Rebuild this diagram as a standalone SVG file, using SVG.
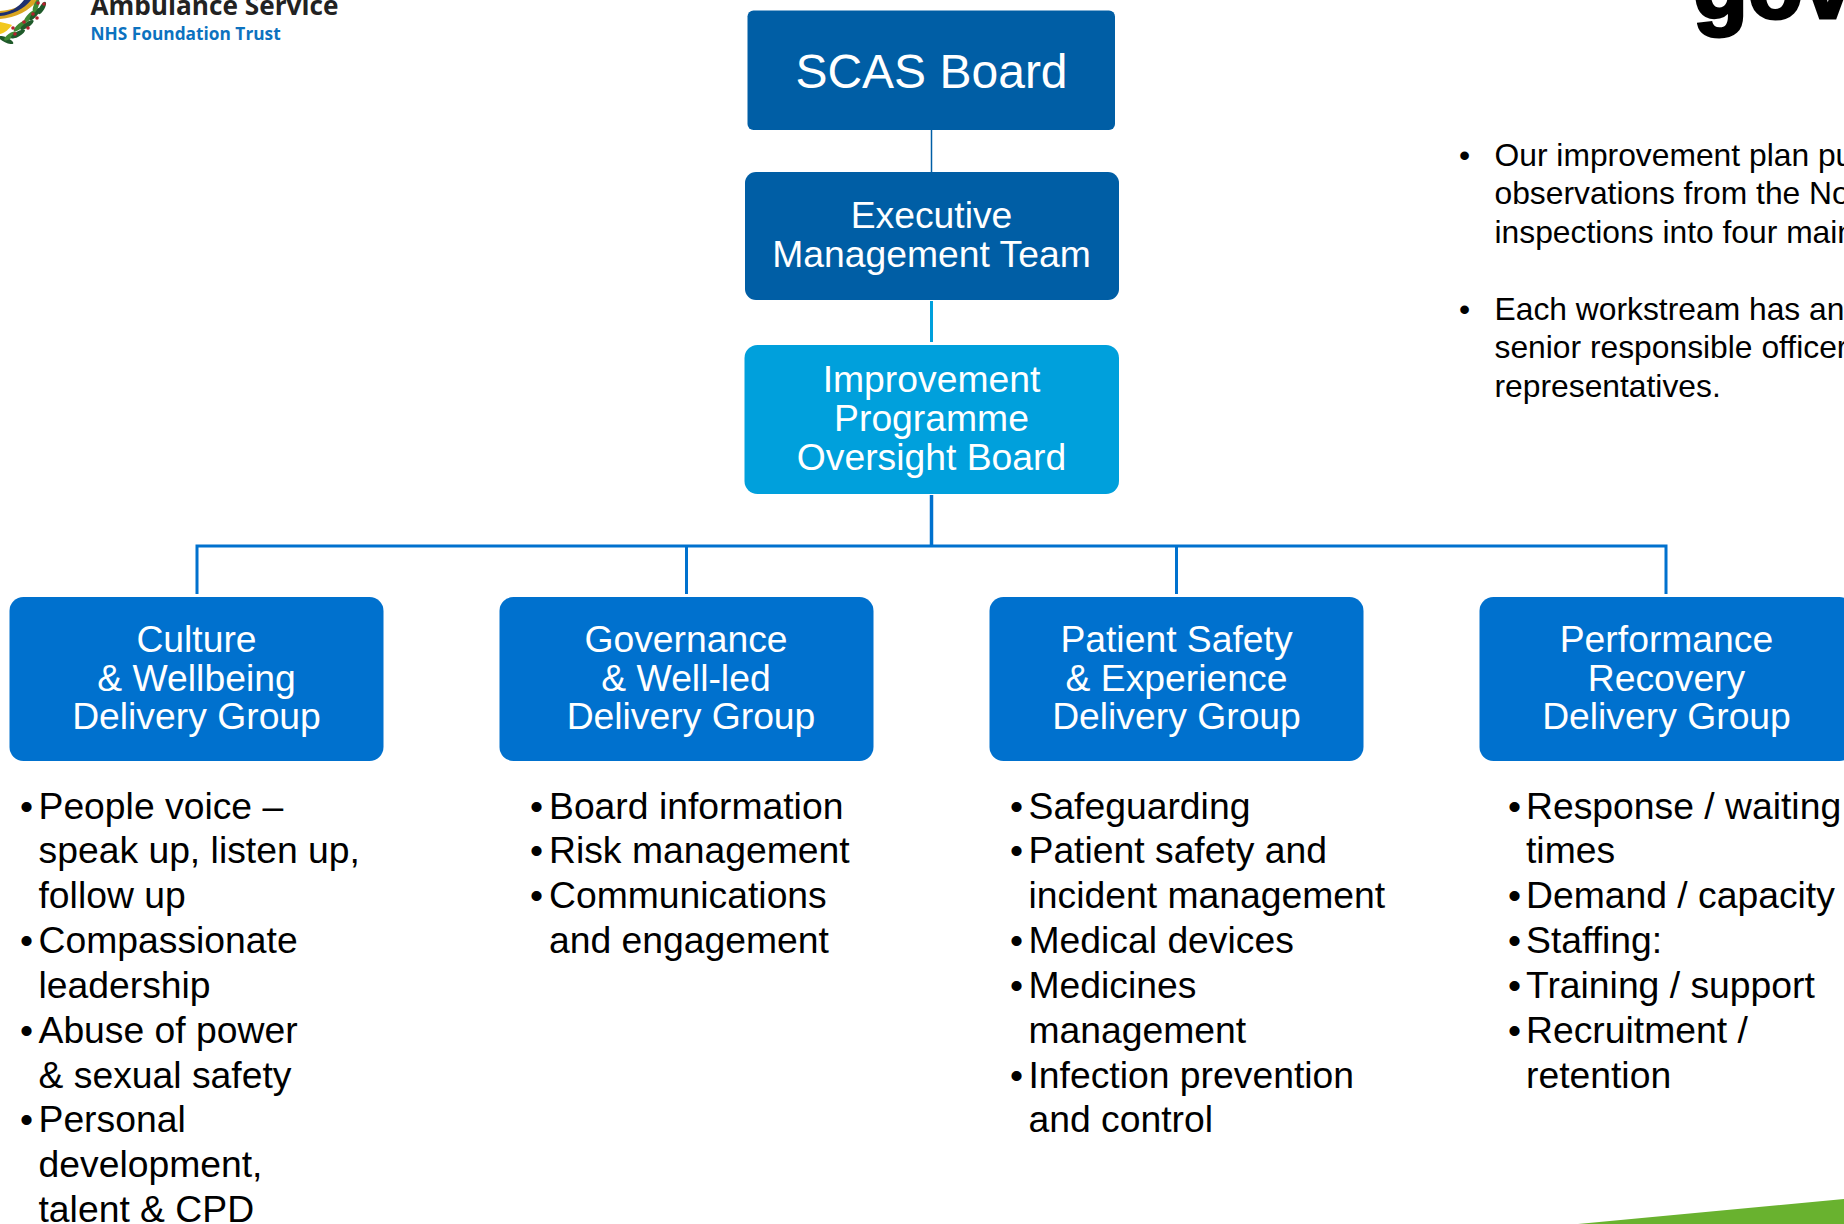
<svg xmlns="http://www.w3.org/2000/svg" width="1844" height="1224" viewBox="0 0 1844 1224">
<style>
text{font-family:"Liberation Sans",Arial,sans-serif}
.n{fill:#0071ce}.d{fill:#005eA5}.l{fill:#00a0dc}
.t{fill:#fff;font-size:37.300px;text-anchor:middle}
.b{fill:#000;font-size:37.300px}
.r{fill:#000;font-size:31.800px}
.c{fill:none;stroke:#0071ce;stroke-width:3}
.lf{fill:#3f8a34}.lg{fill:#1f5a2a}.br{fill:#b3202e}
</style>
<rect width="1844" height="1224" fill="#fff"/>
<g id="logo">
<path d="M0 11C12 10 22 6 28 0H38C30 10 16 18 0 19Z" fill="#d9a520"/>
<path d="M0 13C10 12 18 8 24 0H31C24 9 12 15 0 16Z" fill="#1d2f6f"/>
<path d="M0 22C5 23 9 24 12 25C9 29 5 33 0 34Z" fill="#f2c81e"/>
<g>
<ellipse class="lg" cx="6" cy="40" rx="8" ry="2.500" transform="rotate(25 6 40)"/>
<ellipse class="lf" cx="10" cy="36" rx="7" ry="2.500" transform="rotate(-35 10 36)"/>
<ellipse class="lg" cx="18" cy="34" rx="8" ry="2.500" transform="rotate(-30 18 34)"/>
<ellipse class="lf" cx="20" cy="26" rx="8" ry="2.500" transform="rotate(-40 20 26)"/>
<ellipse class="lg" cx="27" cy="25" rx="8" ry="2.500" transform="rotate(-35 27 25)"/>
<ellipse class="lf" cx="29" cy="17" rx="8" ry="2.500" transform="rotate(-50 29 17)"/>
<ellipse class="lg" cx="35" cy="14" rx="8" ry="2.500" transform="rotate(-50 35 14)"/>
<ellipse class="lf" cx="36" cy="6" rx="7" ry="2.500" transform="rotate(-70 36 6)"/>
<ellipse class="lg" cx="42" cy="8" rx="7" ry="2.500" transform="rotate(-60 42 8)"/>
<circle class="br" cx="15" cy="34" r="1.800"/><circle class="br" cx="13" cy="28" r="1.800"/><circle class="br" cx="24" cy="22" r="1.800"/><circle class="br" cx="28" cy="28" r="1.800"/><circle class="br" cx="33" cy="14" r="1.800"/><circle class="br" cx="37" cy="18" r="1.800"/><circle class="br" cx="38" cy="3" r="1.800"/><circle class="br" cx="44" cy="4" r="1.800"/>
</g>
<text x="90.500" y="15" font-size="26.200" font-weight="bold" fill="#222" style="font-family:'Open Sans',sans-serif">Ambulance Service</text>
<text x="90.500" y="40" font-size="17.300" font-weight="bold" fill="#0c72bf" style="font-family:'Open Sans',sans-serif">NHS Foundation Trust</text>
</g>
<g id="title"><text x="1693" y="18" font-size="90" font-weight="bold" fill="#000" stroke="#000" stroke-width="3">gov</text></g>
<g id="connectors">
<path d="M931.500 130V172" stroke="#005ea5" stroke-width="1.500" fill="none"/>
<path d="M931.500 301V342" stroke="#00a0dc" stroke-width="3" fill="none"/>
<path d="M931.500 495V546" stroke="#0071ce" stroke-width="3.500" fill="none"/>
<path class="c" d="M197 594V546H1666V594M686.500 546V594M1176.500 546V594"/>
</g>
<g id="scas-board"><rect class="d" x="747.500" y="10.500" width="367.500" height="119.500" rx="6"/><text class="t" x="931.500" y="88" style="font-size:48px">SCAS Board</text></g>
<g id="exec"><rect class="d" x="745" y="172" width="374" height="128" rx="11"/><text class="t" x="931.500" y="228">Executive</text><text class="t" x="931.500" y="267">Management Team</text></g>
<g id="ipob"><rect class="l" x="744.500" y="345" width="374.500" height="149" rx="13"/><text class="t" x="931.500" y="392">Improvement</text><text class="t" x="931.500" y="431">Programme</text><text class="t" x="931.500" y="470">Oversight Board</text></g>
<g id="culture"><rect class="n" x="9.500" y="597" width="374" height="164" rx="14"/><text class="t" x="196.500" y="652">Culture</text><text class="t" x="196.500" y="691">&amp; Wellbeing</text><text class="t" x="196.500" y="729">Delivery Group</text></g>
<g id="governance"><rect class="n" x="499.500" y="597" width="374" height="164" rx="14"/><text class="t" x="686" y="652">Governance</text><text class="t" x="686" y="691">&amp; Well-led</text><text class="t" x="691" y="729">Delivery Group</text></g>
<g id="patient"><rect class="n" x="989.500" y="597" width="374" height="164" rx="14"/><text class="t" x="1176.500" y="652">Patient Safety</text><text class="t" x="1176.500" y="691">&amp; Experience</text><text class="t" x="1176.500" y="729">Delivery Group</text></g>
<g id="performance"><rect class="n" x="1479.500" y="597" width="374" height="164" rx="14"/><text class="t" x="1666.500" y="652">Performance</text><text class="t" x="1666.500" y="691">Recovery</text><text class="t" x="1666.500" y="729">Delivery Group</text></g>
<g id="list-culture">
<text class="b" x="20" y="819">•</text><text class="b" x="38.500" y="819">People voice –</text>
<text class="b" x="38.500" y="863">speak up, listen up,</text>
<text class="b" x="38.500" y="908">follow up</text>
<text class="b" x="20" y="953">•</text><text class="b" x="38.500" y="953">Compassionate</text>
<text class="b" x="38.500" y="998">leadership</text>
<text class="b" x="20" y="1043">•</text><text class="b" x="38.500" y="1043">Abuse of power</text>
<text class="b" x="38.500" y="1088">&amp; sexual safety</text>
<text class="b" x="20" y="1132">•</text><text class="b" x="38.500" y="1132">Personal</text>
<text class="b" x="38.500" y="1177">development,</text>
<text class="b" x="38.500" y="1222">talent &amp; CPD</text>
</g>
<g id="list-governance">
<text class="b" x="530" y="819">•</text><text class="b" x="549" y="819">Board information</text>
<text class="b" x="530" y="863">•</text><text class="b" x="549" y="863">Risk management</text>
<text class="b" x="530" y="908">•</text><text class="b" x="549" y="908">Communications</text>
<text class="b" x="549" y="953">and engagement</text>
</g>
<g id="list-patient">
<text class="b" x="1010" y="819">•</text><text class="b" x="1028.500" y="819">Safeguarding</text>
<text class="b" x="1010" y="863">•</text><text class="b" x="1028.500" y="863">Patient safety and</text>
<text class="b" x="1028.500" y="908">incident management</text>
<text class="b" x="1010" y="953">•</text><text class="b" x="1028.500" y="953">Medical devices</text>
<text class="b" x="1010" y="998">•</text><text class="b" x="1028.500" y="998">Medicines</text>
<text class="b" x="1028.500" y="1043">management</text>
<text class="b" x="1010" y="1088">•</text><text class="b" x="1028.500" y="1088">Infection prevention</text>
<text class="b" x="1028.500" y="1132">and control</text>
</g>
<g id="list-performance">
<text class="b" x="1508" y="819">•</text><text class="b" x="1526" y="819">Response / waiting</text>
<text class="b" x="1526" y="863">times</text>
<text class="b" x="1508" y="908">•</text><text class="b" x="1526" y="908">Demand / capacity</text>
<text class="b" x="1508" y="953">•</text><text class="b" x="1526" y="953">Staffing:</text>
<text class="b" x="1508" y="998">•</text><text class="b" x="1526" y="998">Training / support</text>
<text class="b" x="1508" y="1043">•</text><text class="b" x="1526" y="1043">Recruitment /</text>
<text class="b" x="1526" y="1088">retention</text>
</g>
<g id="side-notes">
<text class="r" x="1459" y="166">•</text><text class="r" x="1494.500" y="166">Our improvement plan pu</text>
<text class="r" x="1494.500" y="204">observations from the No</text>
<text class="r" x="1494.500" y="243">inspections into four main</text>
<text class="r" x="1459" y="320">•</text><text class="r" x="1494.500" y="320">Each workstream has an</text>
<text class="r" x="1494.500" y="358">senior responsible officer</text>
<text class="r" x="1494.500" y="397">representatives.</text>
</g>
<polygon id="corner" points="1578,1224 1844,1199 1844,1224" fill="#69b22f"/>
</svg>
